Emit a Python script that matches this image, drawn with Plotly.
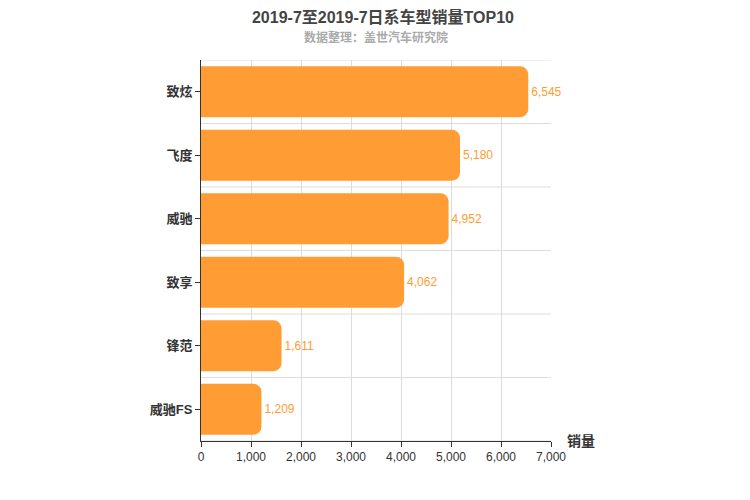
import plotly.graph_objects as go

categories = ["致炫", "飞度", "威驰", "致享", "锋范", "威驰FS"]
values = [6545, 5180, 4952, 4062, 1611, 1209]
xticks = [0, 1000, 2000, 3000, 4000, 5000, 6000, 7000]

cats = categories[::-1]
vals = values[::-1]
color = "#FF9C33"
fig = go.Figure(go.Bar(
    y=cats, x=vals, orientation="h", marker=dict(color=color, line=dict(width=0)),
    text=[f"{v:,}" for v in vals], textposition="outside",
    textfont=dict(color=color, size=12), width=0.8, cliponaxis=False))

shapes = [dict(type="line", xref="paper", x0=0, x1=1, yref="y", y0=i + 0.5, y1=i + 0.5,
               line=dict(color="#ddd", width=1), layer="below") for i in range(-1, len(cats))]
fig.update_layout(
    width=750, height=500, plot_bgcolor="white", paper_bgcolor="white",
    font=dict(family="Liberation Sans, Noto Sans CJK SC", color="#333"),
    margin=dict(l=193, r=207, t=52, b=67),
    barcornerradius=8, showlegend=False, shapes=shapes,
    title=dict(text="<b>2019-7至2019-7日系车型销量TOP10</b>", x=0.5, xanchor="center",
               yref="container", y=0.982, yanchor="middle",
               font=dict(size=16, color="#444", family="Liberation Sans, Noto Sans CJK SC")),
    annotations=[
        dict(text="<b>数据整理：盖世汽车研究院</b>", xref="paper", yref="paper", x=0.5, y=1.058,
             showarrow=False, font=dict(size=12, color="#aaa"), yanchor="middle"),
        dict(text="<b>销量</b>", xref="paper", yref="paper", x=1.04, y=0, yanchor="middle", xanchor="left",
             showarrow=False, font=dict(size=14, color="#333")),
    ],
    xaxis=dict(range=[0, 7000], tickvals=xticks, tickformat=",", showgrid=True, gridcolor="#ddd",
               zeroline=False, showline=True, linecolor="#333", ticks="outside", ticklen=5,
               tickcolor="#333", tickfont=dict(size=12, color="#333"), automargin=False),
    yaxis=dict(showgrid=False, showline=True, linecolor="#333", ticks="outside", ticklen=5,
               tickcolor="#333", tickfont=dict(size=13, color="#333"), automargin=False,
               tickvals=cats, ticktext=[f"<b>{c}</b>" for c in cats],
               range=[-0.5, len(cats) - 0.5]),
)
fig.write_html("out.html")
